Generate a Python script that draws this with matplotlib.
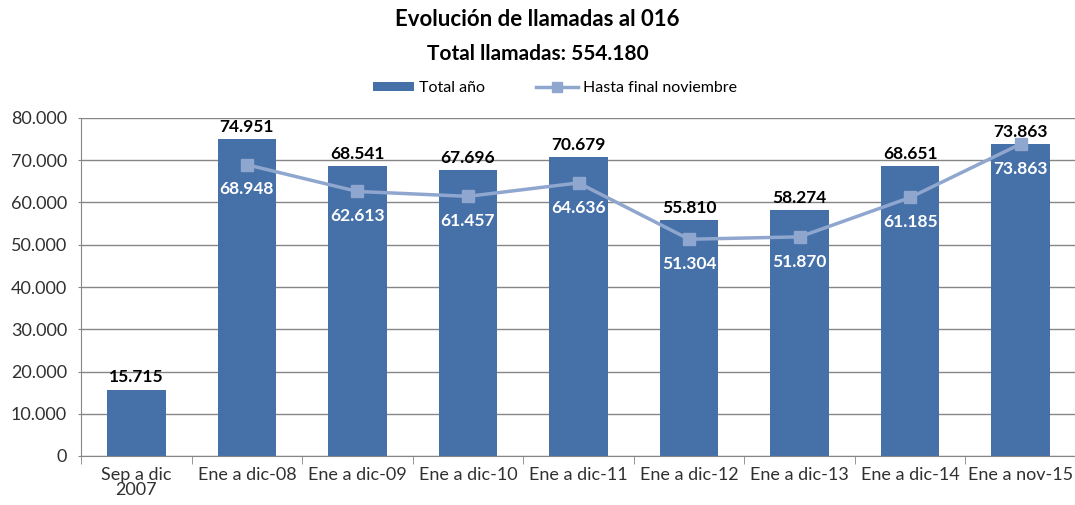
import matplotlib
matplotlib.use("Agg")
import matplotlib.pyplot as plt
from matplotlib.lines import Line2D
from matplotlib.patches import Patch
import numpy as np

categories = ["Sep a dic\n2007", "Ene a dic-08", "Ene a dic-09", "Ene a dic-10",
              "Ene a dic-11", "Ene a dic-12", "Ene a dic-13", "Ene a dic-14", "Ene a nov-15"]
total_anio = [15715, 74951, 68541, 67696, 70679, 55810, 58274, 68651, 73863]
hasta_nov = [None, 68948, 62613, 61457, 64636, 51304, 51870, 61185, 73863]
y_ticks = [0, 10000, 20000, 30000, 40000, 50000, 60000, 70000, 80000]

def fmt(v):
    return f"{v:,.0f}".replace(",", ".")

plt.rcParams['font.family'] = ['Lato', 'DejaVu Sans']
bar_color = "#4571A8"
line_color = "#8FA6CF"

fig = plt.figure(figsize=(10.75, 5.05), dpi=100)
ax = fig.add_axes([81/1075, 49/505, 995/1075, 338/505])

x = np.arange(len(categories))
ax.bar(x, total_anio, width=0.53, color=bar_color, zorder=2)
lx = [i for i, v in enumerate(hasta_nov) if v is not None]
ly = [v for v in hasta_nov if v is not None]
ax.plot(lx, ly, color=line_color, lw=2.5, marker="s", markersize=9,
        markerfacecolor=line_color, markeredgecolor=line_color, zorder=3)

for i, v in enumerate(total_anio):
    ax.annotate(fmt(v), (i, v), xytext=(0, 3), textcoords="offset points",
                ha="center", va="bottom", fontsize=12.5, fontweight="bold",
                color="black", zorder=5, annotation_clip=False)
for i, v in zip(lx, ly):
    ax.annotate(fmt(v), (i, v), xytext=(0, -12), textcoords="offset points",
                ha="center", va="top", fontsize=12.5, fontweight="bold",
                color="white", zorder=5)

ax.set_xlim(-0.5, len(categories) - 0.5)
ax.set_ylim(0, 80000)
ax.set_yticks(y_ticks)
ax.set_yticklabels([fmt(v) for v in y_ticks], fontsize=13, color="#303030")
ax.yaxis.grid(True, color="#868686", lw=1)
ax.set_axisbelow(True)
ax.tick_params(axis="y", length=2, color="#868686", pad=8)

ax.set_xticks(x)
ax.set_xticklabels(categories, fontsize=13, color="#303030", linespacing=0.95)
ax.set_xticks(np.arange(len(categories) + 1) - 0.5, minor=True)
ax.tick_params(axis="x", which="major", length=0, pad=8)
ax.tick_params(axis="x", which="minor", length=6, color="#868686")

for s in ["top", "right"]:
    ax.spines[s].set_visible(False)
for s in ["left", "bottom"]:
    ax.spines[s].set_color("#868686")

fig.text(0.5, 1 - 20/505, "Evolución de llamadas al 016", ha="center", va="center",
         fontsize=16, fontweight="bold")
fig.text(0.5, 1 - 54/505, "Total llamadas: 554.180", ha="center", va="center",
         fontsize=15, fontweight="bold")

handles = [Patch(facecolor=bar_color, edgecolor="none"),
           Line2D([0], [0], color=line_color, lw=2.5, marker="s", markersize=7)]
fig.legend(handles, ["Total año", "Hasta final noviembre"], loc="center",
           bbox_to_anchor=(0.516, 1 - 88/505), ncol=2, frameon=False, fontsize=11.5,
           handlelength=2.6, handleheight=0.5, columnspacing=3.2, handletextpad=0.3)

fig.savefig("out.png", dpi=100)
